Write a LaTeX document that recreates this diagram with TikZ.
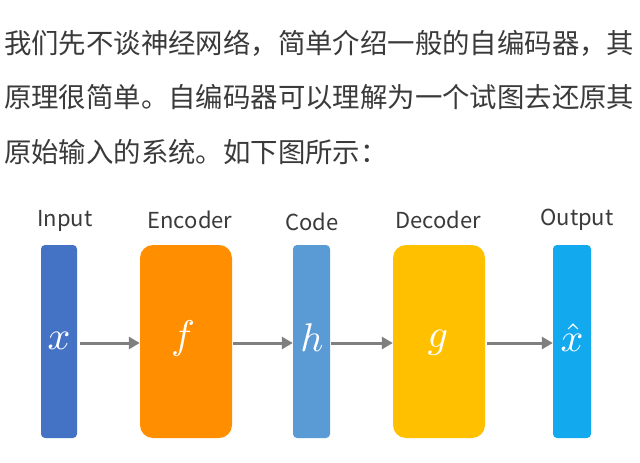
\documentclass[tikz,border=0pt]{standalone}
\usepackage{graphicx}
\usepackage{fontspec}
\newfontfamily\cjk{Noto Sans CJK SC}
\usetikzlibrary{arrows.meta}
\definecolor{txt}{HTML}{3A3A3A}
\definecolor{cIn}{HTML}{4472C4}
\definecolor{cEnc}{HTML}{FF8F00}
\definecolor{cCode}{HTML}{5B9BD5}
\definecolor{cDec}{HTML}{FFC000}
\definecolor{cOut}{HTML}{12A9EE}
\definecolor{arr}{HTML}{7F7F7F}
\newcommand{\mysym}[1]{\scalebox{4}{$#1$}}
\begin{document}
\begin{tikzpicture}[x=1pt,y=-1pt,
  para/.style={anchor=west,inner sep=0pt,font=\cjk\fontsize{27.4}{30}\selectfont,text=txt},
  lab/.style={inner sep=0pt,font=\cjk\fontsize{22}{24}\selectfont,text=txt},
  bar/.style={fill=#1,rounded corners=4pt,inner sep=0pt},
  blk/.style={fill=#1,rounded corners=13pt,inner sep=0pt},
  sym/.style={text=white,inner sep=0pt},
  conn/.style={draw=arr,line width=3pt,-{Triangle[length=11pt,width=12pt]}}]
\useasboundingbox[fill=white] (0,0) rectangle (640,463);
\node[para] (l1) at (4,43) {我们先不谈神经网络，简单介绍一般的自编码器，其};
\node[para] (l2) at (4,97) {原理很简单。自编码器可以理解为一个试图去还原其};
\node[para] (l3) at (4,152) {原始输入的系统。如下图所示：};

\node[bar=cIn, minimum width=36pt, minimum height=193pt] (in) at (59,341.5) {};
\node[blk=cEnc, minimum width=92pt, minimum height=193pt] (enc) at (186,341.5) {};
\node[bar=cCode, minimum width=37pt, minimum height=193pt] (code) at (311.5,341.5) {};
\node[blk=cDec, minimum width=92pt, minimum height=193pt] (dec) at (439,341.5) {};
\node[bar=cOut, minimum width=38pt, minimum height=193pt] (out) at (572,341.5) {};

\node[sym] (min) at (59,341) {\mysym{x}};
\node[sym] (menc) at (183,338) {\mysym{f}};
\node[sym] (mcode) at (312,338) {\mysym{h}};
\node[sym] (mdec) at (438,343) {\mysym{g}};
\node[sym] (mout) at (572,338) {\mysym{\hat{x}}};

\node[lab] (tin) at (65,221) {Input};
\node[lab] (tenc) at (190,220) {Encoder};
\node[lab] (tcode) at (312,222) {Code};
\node[lab] (tdec) at (438,220) {Decoder};
\node[lab] (tout) at (577,220) {Output};

\draw[conn] ([xshift=3pt]in.east |- 0,343) -- (enc.west |- 0,343);
\draw[conn] ([xshift=1pt]enc.east |- 0,343) -- (code.west |- 0,343);
\draw[conn] ([xshift=1pt]code.east |- 0,343) -- (dec.west |- 0,343);
\draw[conn] ([xshift=2pt]dec.east |- 0,343) -- (out.west |- 0,343);
\end{tikzpicture}
\end{document}
